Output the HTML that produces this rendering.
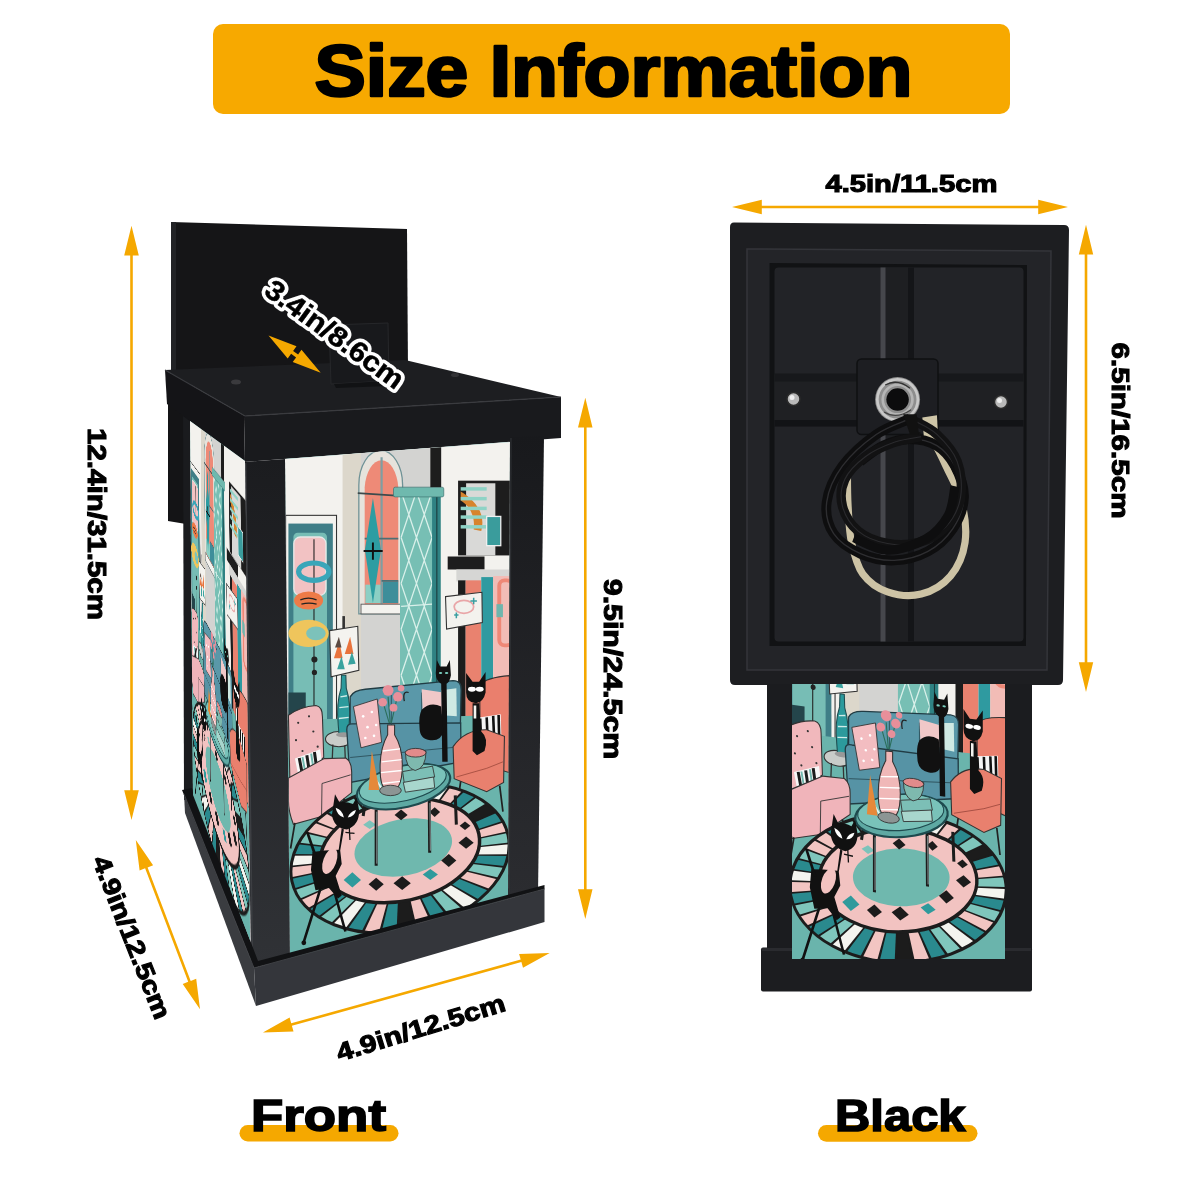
<!DOCTYPE html>
<html><head><meta charset="utf-8">
<style>
html,body{margin:0;padding:0;background:#fff;width:1200px;height:1200px;overflow:hidden;}
.L{position:absolute;left:0;top:0;width:1200px;height:1200px;}
svg text{font-family:"Liberation Sans",sans-serif;font-weight:bold;}
#sideclip{clip-path:polygon(190px 421px,245px 461px,250px 940px,193px 795px);}
#sideinner{position:absolute;left:0;top:0;width:540px;height:1000px;transform-origin:0 0;
transform:matrix3d(-0.054490109,-0.26497838,0,-0.00093061056,-0.0082850374,0.47832432,0,-5.8453549e-05,0,0,1,0,153.84222,154.01316,0,1);}
</style></head>
<body>
<!-- LAYER 1: back shapes -->
<svg class="L" width="1200" height="1200" viewBox="0 0 1200 1200">
<defs>
<g id="art">
<!--ART-->
<g transform="translate(270,420) scale(0.21668)">
<rect x="-200" y="-100" width="1500" height="1900" fill="#f3f2ee"/>
<rect x="335" y="140" width="90" height="1560" fill="#dcd7cb"/>
<rect x="420" y="110" width="330" height="1590" fill="#d3d3d1"/>
<path d="M410,895 L410,300 A101,160 0 0 1 612,300 L612,895 Z" fill="#e6e3dc" stroke="#6f9296" stroke-width="6"/>
<path d="M437,880 L437,310 A78,140 0 0 1 592,310 L592,880 Z" fill="#ee8a77"/>
<rect x="520" y="745" width="72" height="100" fill="#3d8e9a"/>
<rect x="440" y="760" width="75" height="85" fill="#8ccfc4"/>
<line x1="515" y1="172" x2="515" y2="880" stroke="#7d9fa3" stroke-width="10"/>
<line x1="437" y1="548" x2="592" y2="548" stroke="#4d6f74" stroke-width="8"/>
<line x1="515" y1="742" x2="592" y2="742" stroke="#4d6f74" stroke-width="8"/>
<line x1="405" y1="338" x2="600" y2="350" stroke="#3d4a4c" stroke-width="8"/>
<rect x="420" y="850" width="185" height="45" fill="#f3f2ee" stroke="#555" stroke-width="4"/>
<polygon points="475,360 512,600 475,845 438,600" fill="#2d9da2"/>
<path d="M432,605 L520,605 M475,565 L475,645" stroke="#111" stroke-width="9"/>
<!-- lattice column -->
<rect x="600" y="340" width="185" height="1400" fill="#77bfb4"/>
<path d="M605,330 L676,542 M676,330 L605,542 M676,330 L748,542 M748,330 L676,542 M605,542 L676,754 M676,542 L605,754 M676,542 L748,754 M748,542 L676,754 M605,754 L676,966 M676,754 L605,966 M676,754 L748,966 M748,754 L676,966 M605,966 L676,1178 M676,966 L605,1178 M676,966 L748,1178 M748,966 L676,1178 M605,1178 L676,1390 M676,1178 L605,1390 M676,1178 L748,1390 M748,1178 L676,1390 M605,1390 L676,1602 M676,1390 L605,1602 M676,1390 L748,1602 M748,1390 L676,1602 M605,1602 L676,1814 M676,1602 L605,1814 M676,1602 L748,1814 M748,1602 L676,1814 M605,1814 L676,2026 M676,1814 L605,2026 M676,1814 L748,2026 M748,1814 L676,2026" stroke="#d9f0ea" stroke-width="6" fill="none"/>
<path d="M605,860 L748,850 M605,1280 L748,1270" stroke="#d9f0ea" stroke-width="6"/>
<rect x="748" y="340" width="40" height="1400" fill="#2f8283"/>
<line x1="770" y1="340" x2="770" y2="1740" stroke="#1a3a3c" stroke-width="5"/>
<rect x="570" y="310" width="232" height="45" rx="8" fill="#6fb9ae" stroke="#3a6e6c" stroke-width="3"/>
<rect x="740" y="110" width="50" height="200" fill="#1d1d1d"/>
<!-- picture frame right -->
<rect x="868" y="280" width="242" height="345" fill="#1d1d1d"/>
<rect x="905" y="292" width="135" height="333" fill="#d9d9d7"/>
<path d="M880,330 C930,360 1000,420 975,512 L940,505 C950,430 905,385 880,372 Z" fill="#d7832c"/>
<g fill="#8fd3c6"><rect x="880" y="310" width="120" height="16"/><rect x="880" y="355" width="120" height="16"/><rect x="880" y="400" width="120" height="16"/><rect x="880" y="440" width="120" height="16"/><rect x="880" y="485" width="120" height="16"/></g>
<rect x="1000" y="445" width="65" height="135" fill="#3a9c9c" stroke="#f0f0f0" stroke-width="6"/>
<rect x="820" y="630" width="170" height="60" fill="#1d1d1d"/>
<rect x="860" y="690" width="250" height="55" fill="#d6d6d4"/>
<rect x="868" y="740" width="35" height="960" fill="#1d1d1d"/>
<rect x="903" y="740" width="72" height="960" fill="#e9826f"/>
<rect x="975" y="725" width="55" height="975" fill="#2f9aa0"/>
<rect x="1030" y="720" width="80" height="980" fill="#f2bcb6"/>
<rect x="1058" y="740" width="60" height="300" rx="25" fill="none" stroke="#ee8877" stroke-width="18"/>
<rect x="1045" y="850" width="30" height="60" fill="#6fb5ad"/>
<!-- right lamp -->
<rect x="878" y="955" width="22" height="745" fill="#1d1d1d"/>
<polygon points="810,815 978,795 980,935 815,965" fill="#f3f2ee" stroke="#333" stroke-width="5"/>
<ellipse cx="895" cy="862" rx="45" ry="30" fill="none" stroke="#e9a6a8" stroke-width="8"/>
<path d="M850,900 L870,900 M860,888 L860,915 M940,820 L940,850 M925,835 L955,835" stroke="#3a9ea0" stroke-width="7"/>
<!-- left door -->
<rect x="72" y="440" width="235" height="1260" fill="#f3f2ee" stroke="#333" stroke-width="5"/>
<rect x="85" y="478" width="205" height="1222" fill="#3f7e87"/>
<rect x="108" y="520" width="155" height="1180" rx="20" fill="#77bdb5"/>
<rect x="110" y="540" width="148" height="270" rx="30" fill="#f2c2c3" stroke="#e8e8e8" stroke-width="6"/>
<line x1="203" y1="550" x2="203" y2="1650" stroke="#222" stroke-width="5"/>
<ellipse cx="202" cy="700" rx="70" ry="40" fill="none" stroke="#3aa6b9" stroke-width="24"/>
<ellipse cx="178" cy="833" rx="67" ry="42" fill="#ee7b48"/>
<path d="M140,830 Q178,815 215,830 M145,850 Q180,840 215,850" stroke="#222" stroke-width="6" fill="none"/>
<ellipse cx="178" cy="985" rx="93" ry="63" fill="#efc55c"/>
<ellipse cx="212" cy="985" rx="45" ry="32" fill="#7cc2ba"/>
<circle cx="205" cy="1105" r="14" fill="#222"/>
<circle cx="205" cy="1165" r="12" fill="#222"/>
<!-- left lamp shade -->
<rect x="334" y="905" width="12" height="60" fill="#333"/>
<polygon points="275,972 405,952 410,1155 282,1185" fill="#f4f3ef" stroke="#333" stroke-width="5"/>
<g fill="#e9733c"><polygon points="295,1100 320,1020 335,1100"/><polygon points="345,1080 370,1000 385,1080"/></g>
<g fill="#3aa39f"><polygon points="310,1150 330,1090 345,1150"/><polygon points="360,1130 378,1070 395,1125"/></g>
<polygon points="300,1050 318,1000 330,1050" fill="#5b4a42"/>
</g>

<g transform="translate(270,660) scale(0.21668)">
<!-- floor -->
<polygon points="-100,280 1300,250 1300,1700 -100,1700" fill="#6ab4ac"/>
<!-- door shadow bottom -->
<rect x="85" y="150" width="80" height="130" fill="#24454b"/>
<!-- lamp pole and side table -->
<ellipse cx="318" cy="365" rx="62" ry="35" fill="#c9ccc9" stroke="#333" stroke-width="5"/>
<path d="M290,390 L285,520 M345,395 L350,520" stroke="#333" stroke-width="6"/>
<path d="M330,70 L350,70 L352,130 Q375,200 365,300 L362,340 L318,340 L315,300 Q305,200 328,130 Z" fill="#2c9a9c" stroke="#1e4d50" stroke-width="5"/>
<path d="M325,170 L355,165 M320,220 L362,215 M318,270 L363,265" stroke="#d0ece8" stroke-width="6"/>
<ellipse cx="340" cy="345" rx="35" ry="12" fill="#999"/>
<!-- sofa -->
<path d="M370,170 Q385,140 440,135 L845,95 Q885,95 882,140 L878,330 L370,350 Z" fill="#5a98a9" stroke="#213c44" stroke-width="6"/>
<path d="M355,330 Q350,290 385,295 L880,290 L882,470 L370,565 Z" fill="#5693a5" stroke="#213c44" stroke-width="6"/>
<path d="M560,160 L560,350 M700,150 L700,340 M370,450 L880,400" stroke="#2b4e58" stroke-width="4" fill="none"/>
<path d="M640,150 Q610,140 620,190" stroke="#222" stroke-width="6" fill="none"/>
<polygon points="700,135 800,150 805,250 705,245" fill="#f0c8c8"/>
<polygon points="790,140 860,130 862,260 795,255" fill="#cfe9e3"/>
<polygon points="385,215 495,180 515,380 420,405" fill="#f3bdc1" stroke="#333" stroke-width="4"/>
<g fill="#fff"><circle cx="430" cy="260" r="6"/><circle cx="470" cy="240" r="6"/><circle cx="450" cy="310" r="6"/><circle cx="490" cy="300" r="6"/><circle cx="440" cy="360" r="6"/><circle cx="480" cy="350" r="6"/></g>
<!-- tall cat -->
<path d="M770,0 L785,30 L815,30 L830,0 L835,70 Q830,100 815,110 L820,470 L795,470 L790,110 Q765,95 765,60 Z" fill="#111"/>
<g fill="#7ad0c0"><ellipse cx="787" cy="60" rx="8" ry="5"/><ellipse cx="815" cy="60" rx="8" ry="5"/></g>
<!-- sitting cat on sofa -->
<path d="M700,230 Q740,190 790,215 L800,330 Q790,375 740,370 Q690,365 690,310 Q685,260 700,230 Z" fill="#111"/>
<!-- flowers -->
<path d="M555,290 L545,170 M560,290 L590,160 M550,290 L520,190" stroke="#2b6e5a" stroke-width="5"/>
<g fill="#e88f9a"><circle cx="545" cy="140" r="25"/><circle cx="590" cy="170" r="22"/><circle cx="520" cy="195" r="20"/><circle cx="570" cy="220" r="18"/><circle cx="605" cy="130" r="15"/></g>
<!-- coral chair -->
<path d="M968,115 Q1000,80 1105,72 L1105,520 L970,480 Z" fill="#ea7f6d" stroke="#333" stroke-width="5"/>
<polygon points="950,268 1065,250 1068,375 958,388" fill="#f5f5f5"/>
<path d="M970,270 L975,385 M1000,265 L1005,382 M1030,258 L1035,378 M1055,254 L1058,375" stroke="#111" stroke-width="12"/>
<path d="M845,400 Q900,320 1000,322 L1082,352 L1078,565 L1000,608 L850,548 Z" fill="#e9806e" stroke="#333" stroke-width="5"/>
<path d="M860,540 L1000,500 M1000,500 L1075,470" stroke="#a24b3f" stroke-width="4" fill="none"/>
<path d="M880,560 L860,700 M1060,580 L1075,700" stroke="#222" stroke-width="8"/>
<!-- right cat -->
<path d="M905,60 L935,100 L965,100 L995,55 L995,150 Q985,195 950,200 Q905,195 905,150 Z" fill="#111"/>
<g fill="#fff"><ellipse cx="932" cy="135" rx="18" ry="11"/><ellipse cx="968" cy="135" rx="18" ry="11"/></g>
<path d="M935,200 L965,200 L975,330 Q1010,360 990,420 L955,440 L935,420 Z" fill="#111"/>
<rect x="940" y="210" width="12" height="60" fill="#f3f2ee"/>
<!-- pink chair -->
<path d="M85,255 Q140,215 212,210 Q242,215 242,262 L248,450 L92,565 Z" fill="#f1b8bc" stroke="#333" stroke-width="5"/>
<g fill="#333"><circle cx="130" cy="290" r="5"/><circle cx="180" cy="260" r="5"/><circle cx="120" cy="370" r="5"/><circle cx="200" cy="330" r="5"/><circle cx="150" cy="420" r="5"/><circle cx="220" cy="400" r="5"/></g>
<polygon points="115,455 232,412 252,565 140,578" fill="#f7f7f7"/>
<path d="M135,452 L158,572 M170,440 L190,568 M205,425 L225,565" stroke="#1c1c1c" stroke-width="14"/>
<path d="M150,448 L172,570 M190,432 L210,566" stroke="#6fb7ad" stroke-width="9"/>
<path d="M85,545 L250,455 L350,452 Q378,470 377,520 L377,612 L238,722 L108,758 Q85,700 85,650 Z" fill="#f0b4ba" stroke="#333" stroke-width="5"/>
<path d="M240,570 L372,530 M240,570 L238,720" stroke="#333" stroke-width="4" fill="none"/>
<path d="M115,752 L95,870 M340,640 L380,730" stroke="#222" stroke-width="8"/>
<!-- rug -->
<clipPath id="rugclip"><ellipse cx="600" cy="915" rx="510" ry="335" transform="rotate(-12 600 915)"/></clipPath>
<g clip-path="url(#rugclip)">
<ellipse cx="600" cy="915" rx="510" ry="335" transform="rotate(-12 600 915)" fill="#1c1c1c"/>
<polygon points="600,900 1250,767 1254,796 1255,825" fill="#7fc6bc"/>
<polygon points="600,900 1255,836 1252,865 1246,895" fill="#f4f4ef"/>
<polygon points="600,900 1243,906 1234,936 1221,965" fill="#2a8a8e"/>
<polygon points="600,900 1216,976 1200,1005 1182,1034" fill="#7fc6bc"/>
<polygon points="600,900 1174,1044 1152,1072 1127,1099" fill="#f2c5c2"/>
<polygon points="600,900 1118,1109 1090,1134 1060,1159" fill="#2a8a8e"/>
<polygon points="600,900 1049,1168 1016,1191 982,1213" fill="#f4f4ef"/>
<polygon points="600,900 969,1221 932,1241 894,1259" fill="#7fc6bc"/>
<polygon points="600,900 879,1266 839,1282 798,1297" fill="#2a8a8e"/>
<polygon points="600,900 783,1302 741,1314 698,1324" fill="#f2c5c2"/>
<polygon points="600,900 683,1328 639,1335 596,1341" fill="#1c1c1c"/>
<polygon points="600,900 580,1343 537,1346 493,1348" fill="#2a8a8e"/>
<polygon points="600,900 478,1348 435,1346 394,1343" fill="#f2c5c2"/>
<polygon points="600,900 379,1341 338,1335 299,1327" fill="#2a8a8e"/>
<polygon points="600,900 285,1324 248,1313 212,1301" fill="#f4f4ef"/>
<polygon points="600,900 199,1296 166,1281 134,1265" fill="#7fc6bc"/>
<polygon points="600,900 123,1259 94,1240 68,1220" fill="#2a8a8e"/>
<polygon points="600,900 59,1212 36,1190 15,1167" fill="#f2c5c2"/>
<polygon points="600,900 8,1158 -9,1133 -24,1108" fill="#7fc6bc"/>
<polygon points="600,900 -29,1098 -39,1071 -47,1043" fill="#2a8a8e"/>
<polygon points="600,900 -50,1033 -54,1004 -55,975" fill="#f2c5c2"/>
<polygon points="600,900 -55,964 -52,935 -46,905" fill="#f4f4ef"/>
<polygon points="600,900 -43,894 -34,864 -21,835" fill="#2a8a8e"/>
<polygon points="600,900 -16,824 -0,795 18,766" fill="#7fc6bc"/>
<polygon points="600,900 26,756 48,728 73,701" fill="#f2c5c2"/>
<polygon points="600,900 82,691 110,666 140,641" fill="#f2c5c2"/>
<polygon points="600,900 151,632 184,609 218,587" fill="#2a8a8e"/>
<polygon points="600,900 231,579 268,559 306,541" fill="#7fc6bc"/>
<polygon points="600,900 321,534 361,518 402,503" fill="#f4f4ef"/>
<polygon points="600,900 417,498 459,486 502,476" fill="#2a8a8e"/>
<polygon points="600,900 517,472 561,465 604,459" fill="#f2c5c2"/>
<polygon points="600,900 620,457 663,454 707,452" fill="#7fc6bc"/>
<polygon points="600,900 722,452 765,454 806,457" fill="#2a8a8e"/>
<polygon points="600,900 821,459 862,465 901,473" fill="#f4f4ef"/>
<polygon points="600,900 915,476 952,487 988,499" fill="#f2c5c2"/>
<polygon points="600,900 1001,504 1034,519 1066,535" fill="#2a8a8e"/>
<polygon points="600,900 1077,541 1106,560 1132,580" fill="#7fc6bc"/>
<polygon points="600,900 1141,588 1164,610 1185,633" fill="#1c1c1c"/>
<polygon points="600,900 1192,642 1209,667 1224,692" fill="#2a8a8e"/>
<polygon points="600,900 1229,702 1239,729 1247,757" fill="#f2c5c2"/>
</g>
<ellipse cx="600" cy="915" rx="510" ry="335" transform="rotate(-12 600 915)" fill="none" stroke="#1c1c1c" stroke-width="14"/>
<ellipse cx="600" cy="880" rx="372" ry="232" transform="rotate(-12 600 880)" fill="#f2c3c1" stroke="#1c1c1c" stroke-width="16"/>
<ellipse cx="615" cy="865" rx="228" ry="130" transform="rotate(-11 615 865)" fill="#6fb8ae"/>

<g fill="#1c1c1c">
<polygon points="605,690 635,715 605,740 575,715"/>
<polygon points="760,680 785,702 760,724 735,702"/>
<polygon points="900,745 925,765 900,785 875,765"/>
<polygon points="905,815 940,843 905,871 870,843"/>
<polygon points="825,895 860,925 825,955 790,925"/>
<polygon points="610,998 650,1030 610,1062 570,1030"/>
<polygon points="490,1005 525,1035 490,1065 455,1035"/>
</g>
<g fill="#2f9a9c">
<polygon points="380,980 420,1015 380,1050 340,1015"/>
<polygon points="740,965 775,990 740,1015 705,990"/>
</g>
<polygon points="460,740 490,760 460,780 430,760" fill="#7cc3ba"/>
<!-- table -->
<path d="M490,690 L490,950 M735,650 L737,890 M855,625 L860,760 M440,650 L430,720" stroke="#1c1c1c" stroke-width="14"/>
<path d="M493,700 L493,940 M738,660 L740,880" stroke="#9aa" stroke-width="4"/>
<g transform="rotate(-13 615 580)">
<ellipse cx="615" cy="585" rx="220" ry="95" fill="#5ea9a3" stroke="#1e4a4e" stroke-width="10"/>
<ellipse cx="615" cy="570" rx="205" ry="80" fill="#79c2b9" stroke="#1e4a4e" stroke-width="5"/>
</g>
<path d="M480,540 L520,600 M700,520 L740,580" stroke="#e6f4f0" stroke-width="8"/>
<!-- vase -->
<path d="M543,300 L575,300 L575,345 Q622,420 607,540 Q597,600 560,612 Q515,602 510,540 Q500,420 543,345 Z" fill="#f0b8b8" stroke="#333" stroke-width="5"/>
<path d="M520,420 L600,410 M515,470 L607,460 M512,520 L607,510 M520,570 L600,560" stroke="#fff" stroke-width="6"/>
<ellipse cx="556" cy="602" rx="50" ry="24" fill="#8c9594" stroke="#333" stroke-width="4"/>
<!-- carrot -->
<path d="M470,420 L505,600 L455,600 Z" fill="#e5893a"/>
<!-- bowl & books -->
<polygon points="612,515 750,490 760,540 620,570" fill="#7cbfb6" stroke="#333" stroke-width="4"/>
<polygon points="615,565 755,540 760,590 625,610" fill="#a8d6cd" stroke="#333" stroke-width="4"/>
<path d="M625,425 Q670,400 720,420 Q720,500 670,510 Q625,500 625,425 Z" fill="#7eb9ae" stroke="#333" stroke-width="4"/>
<ellipse cx="672" cy="428" rx="48" ry="20" fill="#e28b8b" stroke="#333" stroke-width="4"/>
<!-- front cat -->
<path d="M300,620 L321,658 Q348,651 383,665 L400,633 L411,692 Q414,761 355,782 Q293,775 286,713 Z" fill="#111"/>
<path d="M303,682 Q335,692 341,727 Q310,720 303,682 Z" fill="#fff"/><path d="M397,692 Q369,699 359,727 Q390,723 397,692 Z" fill="#fff"/>
<polygon points="331,775 341,782 324,879 331,941 303,997 331,1087 314,1101 272,1052 210,1063 189,969 196,886 252,879 317,876" fill="#111"/>
<ellipse cx="276" cy="928" rx="30" ry="62" fill="#f2c3c1" transform="rotate(20 276 928)"/>
<polygon points="165,793 179,796 220,914 207,917" fill="#111"/>
<path d="M234,1052 L156,1301 M300,1080 L348,1253" stroke="#111" stroke-width="12"/>
<circle cx="156" cy="1305" r="11" fill="#111"/>
<path d="M348,796 L390,800 M366,775 L369,831" stroke="#111" stroke-width="6"/>
</g>

<!--/ART-->
</g>
<linearGradient id="postg" x1="0" y1="0" x2="0" y2="1"><stop offset="0" stop-color="#1b1c1f"/><stop offset="1" stop-color="#303236"/></linearGradient>
<linearGradient id="postg2" x1="0" y1="0" x2="0" y2="1"><stop offset="0" stop-color="#18191c"/><stop offset="1" stop-color="#2b2c30"/></linearGradient>
<clipPath id="cpFront"><polygon points="285,459 510,442 508,899 290,960"/></clipPath>
<clipPath id="cpRight"><rect x="792" y="684" width="213" height="275"/></clipPath>
</defs>
<!-- banner -->
<rect x="213" y="24" width="797" height="90" rx="10" fill="#F7A900"/>
<text x="613.5" y="95.5" font-size="72" text-anchor="middle" textLength="598" lengthAdjust="spacingAndGlyphs" fill="#000" stroke="#000" stroke-width="2.6" stroke-linejoin="round">Size Information</text>

<!-- LEFT LAMP -->
<!--LL-->
<g id="leftlamp">
<!-- back plate -->
<polygon points="171,222 407,229 408,372 171,380" fill="#151517"/>
<polygon points="171,222 176,222 176,378 171,378" fill="#222326"/>
<polygon points="168,380 192,380 192,525 168,521" fill="#141416"/>
<polygon points="183,400 192,400 193,800 184,800" fill="#1a1b1e"/>
<!-- cap -->
<polygon points="165,370 405,360 561,397 245,416" fill="#1d1e21"/>
<polygon points="165,370 245,416 244,462 167,404" fill="#141417"/>
<polygon points="245,416 561,397 561,438 244,462" fill="#191a1d"/>
<polyline points="165,370 245,416 561,397" fill="none" stroke="#3a3b3f" stroke-width="1.2"/>
<ellipse cx="236" cy="382" rx="5" ry="2.5" fill="#3a3a3d"/>
<polygon points="329,325 388,323 389,381 331,384" fill="#18191c" stroke="#26272a" stroke-width="1"/>
<polygon points="334,384 388,381 388,386 336,388" fill="#111214"/>
<ellipse cx="455" cy="375" rx="4" ry="2" fill="#333336"/>
<!-- side panel placeholder bg -->
<polygon points="190,421 245,461 250,940 193,795" fill="#6bb5ad"/>
<!-- front panel art -->
<g clip-path="url(#cpFront)"><rect x="280" y="430" width="240" height="540" fill="#6bb5ad"/><use href="#art"/></g>
<!-- posts -->
<polygon points="244,462 285,459 290,962 251,966" fill="url(#postg)"/>
<line x1="245.5" y1="463" x2="252.5" y2="964" stroke="#3c3e42" stroke-width="1.6"/>
<polygon points="510,437 544,436 538,895 508,897" fill="url(#postg2)"/>
<line x1="511" y1="438" x2="509.5" y2="892" stroke="#2e3034" stroke-width="1.2"/>
<!-- base -->
<polygon points="184,794 254,968 256,1006 185,813" fill="#3a3c40"/>
<polygon points="254,968 544.5,889 544.5,922 256,1006" fill="#34363b"/>
<polygon points="182,790 254,968 544.5,889 544.5,885 258,961 192,788" fill="#111214"/>
<polyline points="184,794 254,968 544.5,889" fill="none" stroke="#3e4044" stroke-width="1"/>
</g>


<!--/LL-->
<!-- RIGHT LAMP -->
<!--RL-->
<g id="rightlamp">
<!-- outer box -->
<path d="M734,222.5 L1064,225 Q1069,225 1069,230 L1063,680 Q1063,685 1058,685 L735,685 Q730,685 730,680 L730,227 Q730,222.5 734,222.5 Z" fill="#1d1e21"/>
<path d="M747,249 L1051,251 L1047,670 L747,670 Z" fill="#232428" stroke="#34353a" stroke-width="1.5"/>
<path d="M769.5,263 L1027,265 L1026,646 L769.5,646 Z" fill="#111214"/>
<rect x="774.5" y="267.5" width="249" height="374" rx="4" fill="#222327"/>
<!-- vertical bar -->
<rect x="880.5" y="267.5" width="33" height="374" fill="#1e1f22"/>
<rect x="880.5" y="267.5" width="5" height="374" fill="#46474c"/>
<rect x="908" y="267.5" width="6" height="374" fill="#141518"/>
<!-- horizontal band -->
<rect x="774.5" y="374.5" width="249" height="52" fill="#1f2023"/>
<rect x="774.5" y="373.5" width="249" height="8" fill="#17181b"/>
<rect x="774.5" y="420" width="249" height="6.5" fill="#121316"/>
<!-- screws -->
<circle cx="793.5" cy="399" r="6.5" fill="#b9b9b9" stroke="#2b2b2b" stroke-width="1.5"/>
<circle cx="792" cy="397.5" r="2.5" fill="#eee"/>
<circle cx="1001" cy="402" r="6.5" fill="#b9b9b9" stroke="#2b2b2b" stroke-width="1.5"/>
<circle cx="999.5" cy="400.5" r="2.5" fill="#eee"/>
<!-- center block -->
<rect x="857" y="359" width="81" height="75.5" rx="4.5" fill="#1d1e22" stroke="#0f1012" stroke-width="1.5"/>
<g transform="translate(820,340) scale(0.22487)">
<circle cx="345" cy="265" r="100" fill="#8e8e8e"/>
<circle cx="345" cy="265" r="90" fill="none" stroke="#c9c9c9" stroke-width="12"/>
<circle cx="345" cy="265" r="66" fill="none" stroke="#b5b5b5" stroke-width="12"/>
<path d="M290,200 Q345,170 400,215" fill="none" stroke="#333" stroke-width="6"/>
<path d="M285,320 Q340,355 405,310" fill="none" stroke="#444" stroke-width="6"/>
<circle cx="345" cy="265" r="50" fill="#0c0c0d"/>
<path d="M455,345 L520,335 L525,430 L462,432 Z" fill="#cfc6a8"/>
<path d="M490,420 C502,443 537,510 560,560 C583,610 616,663 630,720 C644,777 653,845 645,900 C637,955 612,1012 580,1050 C548,1088 497,1118 450,1130 C403,1142 343,1135 300,1120 C257,1105 217,1077 190,1040 C163,1003 151,950 140,900 C129,850 128,790 125,740 C122,690 122,623 122,600" fill="none" stroke="#cdc3a5" stroke-width="32"/>
<path d="M400,350 C375,362 300,385 250,420 C200,455 137,510 100,560 C63,610 37,670 30,720 C23,770 35,822 60,860 C85,898 135,930 180,950 C225,970 280,982 330,980 C380,978 437,963 480,940 C523,917 563,880 590,840 C617,800 638,747 640,700 C642,653 620,598 600,560 C580,522 553,490 520,470 C487,450 440,440 400,440 C360,440 317,453 280,470 C243,487 197,528 180,540" fill="none" stroke="#0e0e0f" stroke-width="44"/>
<path d="M400,350 C375,362 300,385 250,420 C200,455 137,510 100,560 C63,610 37,670 30,720 C23,770 35,822 60,860 C85,898 135,930 180,950 C225,970 280,982 330,980 C380,978 437,963 480,940 C523,917 563,880 590,840 C617,800 638,747 640,700 C642,653 620,598 600,560 C580,522 553,490 520,470 C487,450 440,440 400,440 C360,440 317,453 280,470 C243,487 197,528 180,540" fill="none" stroke="#2e2e31" stroke-width="6"/>
<path d="M420,360 C437,370 488,390 520,420 C552,450 592,493 610,540 C628,587 633,652 625,700 C617,748 591,797 560,830 C529,863 483,888 440,900 C397,912 345,913 300,905 C255,897 203,878 170,850 C137,822 110,778 100,740 C90,702 93,657 110,620 C127,583 163,548 200,520 C237,492 288,470 330,455 C372,440 430,434 450,430" fill="none" stroke="#121213" stroke-width="42"/>
<path d="M420,360 C437,370 488,390 520,420 C552,450 592,493 610,540 C628,587 633,652 625,700 C617,748 591,797 560,830 C529,863 483,888 440,900 C397,912 345,913 300,905 C255,897 203,878 170,850 C137,822 110,778 100,740 C90,702 93,657 110,620 C127,583 163,548 200,520 C237,492 288,470 330,455 C372,440 430,434 450,430" fill="none" stroke="#2a2a2d" stroke-width="5"/>
<path d="M150,880 C175,889 247,934 300,935 C353,936 425,911 470,885 C515,859 548,819 570,780 C592,741 595,672 600,650" fill="none" stroke="#0e0e0f" stroke-width="40"/>
<path d="M370,330 L400,420 L440,420 L430,330 Z" fill="#111"/>
</g>
<!-- lower body -->
<rect x="767" y="684" width="265" height="266" fill="#1b1c1f"/>
<rect x="761" y="947.5" width="271" height="44" rx="2" fill="#1c1d20"/>
<rect x="762" y="948" width="269" height="3" fill="#2a2b2f"/>
<g clip-path="url(#cpRight)"><rect x="790" y="680" width="220" height="285" fill="#6bb5ad"/><use href="#art" transform="matrix(0.99097,0.13962,0.000517,1.01551,501.22,-39.52)"/></g>
</g>

<!--/RL-->
</svg>

<!-- LAYER 2: side face art with perspective -->
<div class="L" id="sideclip"><div id="sideinner"><svg width="540" height="1000" viewBox="0 0 540 1000"><use href="#art"/></svg></div></div>

<!-- LAYER 3: overlays (arrows, labels) -->
<svg class="L" width="1200" height="1200" viewBox="0 0 1200 1200">
<g fill="#F5A800">
<polygon points="131.5,225.8 124.2,255.5 130.2,255.5 130.2,790.2 124.2,790.2 131.5,820.0 138.8,790.2 132.8,790.2 132.8,255.5 138.8,255.5"/>
<polygon points="135.8,840.0 139.6,870.4 145.1,868.3 188.2,981.8 182.7,984.0 200.0,1009.2 196.2,978.8 190.7,980.9 147.6,867.4 153.1,865.2"/>
<polygon points="262.9,1032.5 293.5,1031.5 291.9,1025.8 521.4,962.1 523.0,967.8 549.7,952.9 519.1,953.9 520.7,959.6 291.2,1023.3 289.6,1017.6"/>
<polygon points="585.3,397.7 578.0,427.4 584.0,427.4 584.0,889.2 578.0,889.2 585.3,919.0 592.5,889.2 586.6,889.2 586.6,427.4 592.5,427.4"/>
<polygon points="732.0,207.0 761.8,214.2 761.8,208.3 1038.2,208.3 1038.2,214.2 1068.0,207.0 1038.2,199.8 1038.2,205.7 761.8,205.7 761.8,199.8"/>
<polygon points="1086.0,224.8 1078.8,254.6 1084.7,254.6 1084.7,662.2 1078.8,662.2 1086.0,692.0 1093.2,662.2 1087.3,662.2 1087.3,254.6 1093.2,254.6"/>
<polygon points="268.5,335.5 287.7,358.5 291.1,353.8 296.1,357.4 292.7,362.0 320.7,372.8 301.5,349.8 298.1,354.5 293.1,350.9 296.5,346.3"/>
</g>
<g fill="#000" stroke="#000" text-anchor="middle">
<text lengthAdjust="spacingAndGlyphs" font-size="26" textLength="192" transform="translate(87.5,524) rotate(90)" stroke-width="1.1">12.4in/31.5cm</text>
<text lengthAdjust="spacingAndGlyphs" font-size="23" textLength="172" transform="translate(911.4,192)" stroke-width="1.1">4.5in/11.5cm</text>
<text lengthAdjust="spacingAndGlyphs" font-size="24" textLength="176" transform="translate(1112,430.5) rotate(90)" stroke-width="1.1">6.5in/16.5cm</text>
<text lengthAdjust="spacingAndGlyphs" font-size="25" textLength="180.5" transform="translate(603.5,669) rotate(90)" stroke-width="1.1">9.5in/24.5cm</text>
<text lengthAdjust="spacingAndGlyphs" font-size="25" textLength="173" transform="translate(123.8,940.5) rotate(68.4)" stroke-width="1.1">4.9in/12.5cm</text>
<text lengthAdjust="spacingAndGlyphs" font-size="25" textLength="175" transform="translate(423.3,1036) rotate(-17)" stroke-width="1.1">4.9in/12.5cm</text>
</g>
<text lengthAdjust="spacingAndGlyphs" font-size="28" textLength="164" text-anchor="middle" fill="#fff" stroke="#fff" stroke-width="7.5" stroke-linejoin="round" transform="translate(329,342) rotate(36)">3.4in/8.6cm</text>
<text lengthAdjust="spacingAndGlyphs" font-size="28" textLength="164" text-anchor="middle" fill="#000" stroke="#000" stroke-width="0.5" transform="translate(329,342) rotate(36)">3.4in/8.6cm</text>
<rect x="239.5" y="1125" width="159" height="16.5" rx="8.25" fill="#F5A800"/>
<rect x="818" y="1125" width="159.5" height="16.7" rx="8.35" fill="#F5A800"/>
<g fill="#000" stroke="#000" text-anchor="middle">
<text lengthAdjust="spacingAndGlyphs" font-size="44.5" textLength="135" x="318.5" y="1131" stroke-width="1.6">Front</text>
<text lengthAdjust="spacingAndGlyphs" font-size="44.5" textLength="130.5" x="900.3" y="1131.2" stroke-width="1.6">Black</text>
</g>
</svg>
</body></html>
